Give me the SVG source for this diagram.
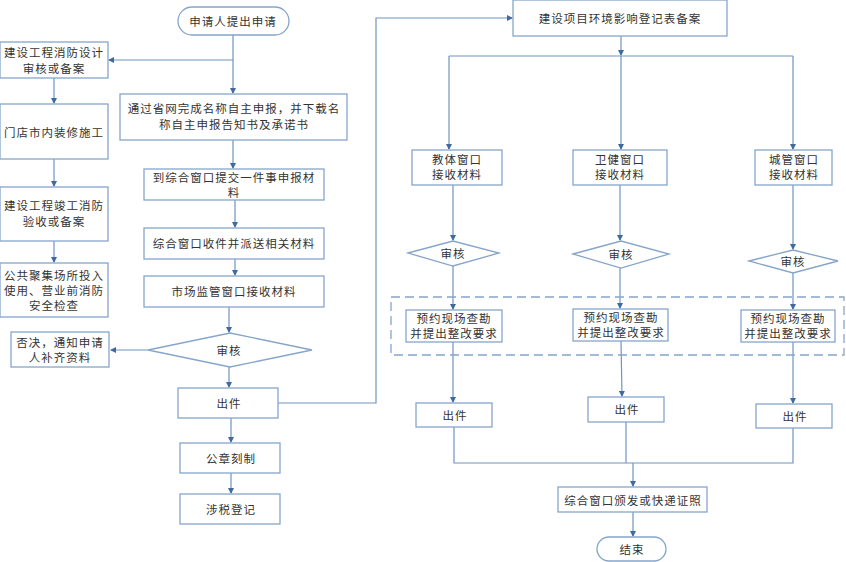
<svg xmlns="http://www.w3.org/2000/svg" width="846" height="562" viewBox="0 0 846 562">
<defs>
<marker id="arr" markerWidth="6" markerHeight="6" refX="5" refY="3" orient="auto" markerUnits="userSpaceOnUse">
<path d="M0,0 L6,3 L0,6 Z" fill="#3e6aa0"/>
</marker>
<style>
.n rect, .n path, .n polygon { fill:#fff; stroke:#86a5cb; stroke-width:1.3; }
.t { font-family:"Noto Sans CJK SC","Noto Sans CJK JP",sans-serif; font-size:11.5px; fill:#333; text-anchor:middle; dominant-baseline:central; letter-spacing:1px; }
.c line, .c polyline { fill:none; stroke:#6f94c0; stroke-width:1.2; }
.a { marker-end:url(#arr); }
</style>
</defs>
<rect width="846" height="562" fill="#fff"/>

<g id="connectors" class="c">
<line class="a" x1="233" y1="35" x2="233" y2="93"/>
<polyline class="a" points="233,60 109,60"/>
<line class="a" x1="233" y1="140" x2="233" y2="168"/>
<line class="a" x1="54" y1="78" x2="54" y2="103"/>
<line class="a" x1="54" y1="159" x2="54" y2="186"/>
<line class="a" x1="54" y1="241" x2="54" y2="262"/>
<line class="a" x1="235" y1="200" x2="235" y2="227"/>
<line class="a" x1="235" y1="259" x2="235" y2="275"/>
<line class="a" x1="229" y1="307" x2="229" y2="332"/>
<line class="a" x1="148" y1="350" x2="111" y2="350"/>
<line class="a" x1="229" y1="367" x2="229" y2="387"/>
<line class="a" x1="231" y1="418" x2="231" y2="442"/>
<line class="a" x1="231" y1="473" x2="231" y2="493"/>
<polyline class="a" points="278,403 376,403 376,18 512,18"/>
<line class="a" x1="621" y1="36" x2="621" y2="55"/>
<polyline points="449,56 793,56"/>
<line class="a" x1="449" y1="56" x2="449" y2="149"/>
<line class="a" x1="621" y1="56" x2="621" y2="149"/>
<line class="a" x1="793" y1="56" x2="793" y2="149"/>
<line class="a" x1="453" y1="185" x2="453" y2="240"/>
<line class="a" x1="620" y1="185" x2="620" y2="240"/>
<line class="a" x1="793" y1="185" x2="793" y2="249"/>
<line class="a" x1="453" y1="266" x2="453" y2="309"/>
<line class="a" x1="620" y1="268" x2="620" y2="308"/>
<line class="a" x1="793" y1="273" x2="793" y2="309"/>
<line class="a" x1="453" y1="342" x2="453" y2="402"/>
<line class="a" x1="621" y1="341" x2="622" y2="396"/>
<line class="a" x1="793" y1="342" x2="793" y2="403"/>
<polyline points="454,427 454,463 793,463 793,428"/>
<line x1="626" y1="422" x2="626" y2="463"/>
<line class="a" x1="633" y1="463" x2="633" y2="486"/>
<line class="a" x1="633" y1="512" x2="633" y2="536"/>
</g>

<g id="dashed-group">
<rect x="391" y="297" width="453" height="58" fill="none" stroke="#86a5cb" stroke-width="1.3" stroke-dasharray="9,5"/>
</g>

<g id="start" class="n"><rect x="178" y="7" width="111" height="28" rx="14"/><text class="t" x="233" y="21">申请人提出申请</text></g>
<g id="n-fire-design" class="n"><rect x="0" y="42" width="108" height="36"/><text class="t" x="54" y="52">建设工程消防设计</text><text class="t" x="54" y="68">审核或备案</text></g>
<g id="n-decor" class="n"><rect x="0" y="104" width="108" height="55"/><text class="t" x="54" y="132">门店市内装修施工</text></g>
<g id="n-fire-accept" class="n"><rect x="0" y="187" width="108" height="54"/><text class="t" x="54" y="205">建设工程竣工消防</text><text class="t" x="54" y="221">验收或备案</text></g>
<g id="n-public" class="n"><rect x="0" y="263" width="108" height="54"/><text class="t" x="54" y="275">公共聚集场所投入</text><text class="t" x="54" y="290">使用、营业前消防</text><text class="t" x="54" y="305">安全检查</text></g>
<g id="n-online" class="n"><rect x="120" y="94" width="227" height="46"/><text class="t" x="234" y="108">通过省网完成名称自主申报，并下载名</text><text class="t" x="234" y="124">称自主申报告知书及承诺书</text></g>
<g id="n-submit" class="n"><rect x="144" y="169" width="180" height="31"/><text class="t" x="234" y="177">到综合窗口提交一件事申报材</text><text class="t" x="234" y="192">料</text></g>
<g id="n-dispatch" class="n"><rect x="144" y="228" width="180" height="31"/><text class="t" x="234" y="243">综合窗口收件并派送相关材料</text></g>
<g id="n-market" class="n"><rect x="144" y="276" width="180" height="31"/><text class="t" x="234" y="291">市场监管窗口接收材料</text></g>
<g id="d-review" class="n"><polygon points="148,350 230,333 312,350 230,367"/><text class="t" x="229" y="350">审核</text></g>
<g id="n-reject" class="n"><rect x="11" y="332" width="98" height="35"/><text class="t" x="60" y="342">否决，通知申请</text><text class="t" x="60" y="357">人补齐资料</text></g>
<g id="n-issue" class="n"><rect x="178" y="388" width="100" height="30"/><text class="t" x="229" y="403">出件</text></g>
<g id="n-seal" class="n"><rect x="180" y="443" width="100" height="30"/><text class="t" x="231" y="458">公章刻制</text></g>
<g id="n-tax" class="n"><rect x="180" y="494" width="100" height="30"/><text class="t" x="231" y="509">涉税登记</text></g>

<g id="n-env" class="n"><rect x="513" y="0" width="214" height="36"/><text class="t" x="620" y="18">建设项目环境影响登记表备案</text></g>
<g id="n-edu" class="n"><rect x="412" y="150" width="90" height="35"/><text class="t" x="457" y="159">教体窗口</text><text class="t" x="457" y="174">接收材料</text></g>
<g id="n-health" class="n"><rect x="573" y="150" width="94" height="35"/><text class="t" x="620" y="159">卫健窗口</text><text class="t" x="620" y="174">接收材料</text></g>
<g id="n-city" class="n"><rect x="755" y="150" width="77" height="35"/><text class="t" x="794" y="159">城管窗口</text><text class="t" x="794" y="174">接收材料</text></g>
<g id="d-edu" class="n"><polygon points="408,253 453,241 499,253 453,266"/><text class="t" x="453" y="253">审核</text></g>
<g id="d-health" class="n"><polygon points="573,254 621,241 669,254 621,268"/><text class="t" x="621" y="254">审核</text></g>
<g id="d-city" class="n"><polygon points="749,261 793,250 838,261 793,273"/><text class="t" x="793" y="261">审核</text></g>
<g id="n-edu-visit" class="n"><rect x="406" y="310" width="96" height="32"/><text class="t" x="454" y="318">预约现场查勘</text><text class="t" x="454" y="333">并提出整改要求</text></g>
<g id="n-health-visit" class="n"><rect x="573" y="309" width="95" height="32"/><text class="t" x="621" y="317">预约现场查勘</text><text class="t" x="621" y="332">并提出整改要求</text></g>
<g id="n-city-visit" class="n"><rect x="741" y="310" width="94" height="32"/><text class="t" x="788" y="318">预约现场查勘</text><text class="t" x="788" y="333">并提出整改要求</text></g>
<g id="n-edu-issue" class="n"><rect x="416" y="403" width="76" height="24"/><text class="t" x="455" y="415">出件</text></g>
<g id="n-health-issue" class="n"><rect x="588" y="397" width="76" height="25"/><text class="t" x="627" y="409">出件</text></g>
<g id="n-city-issue" class="n"><rect x="756" y="404" width="76" height="24"/><text class="t" x="795" y="416">出件</text></g>
<g id="n-deliver" class="n"><rect x="558" y="487" width="149" height="25"/><text class="t" x="633" y="500">综合窗口颁发或快递证照</text></g>
<g id="end" class="n"><rect x="597" y="537" width="69" height="24" rx="12"/><text class="t" x="632" y="549">结束</text></g>
</svg>
